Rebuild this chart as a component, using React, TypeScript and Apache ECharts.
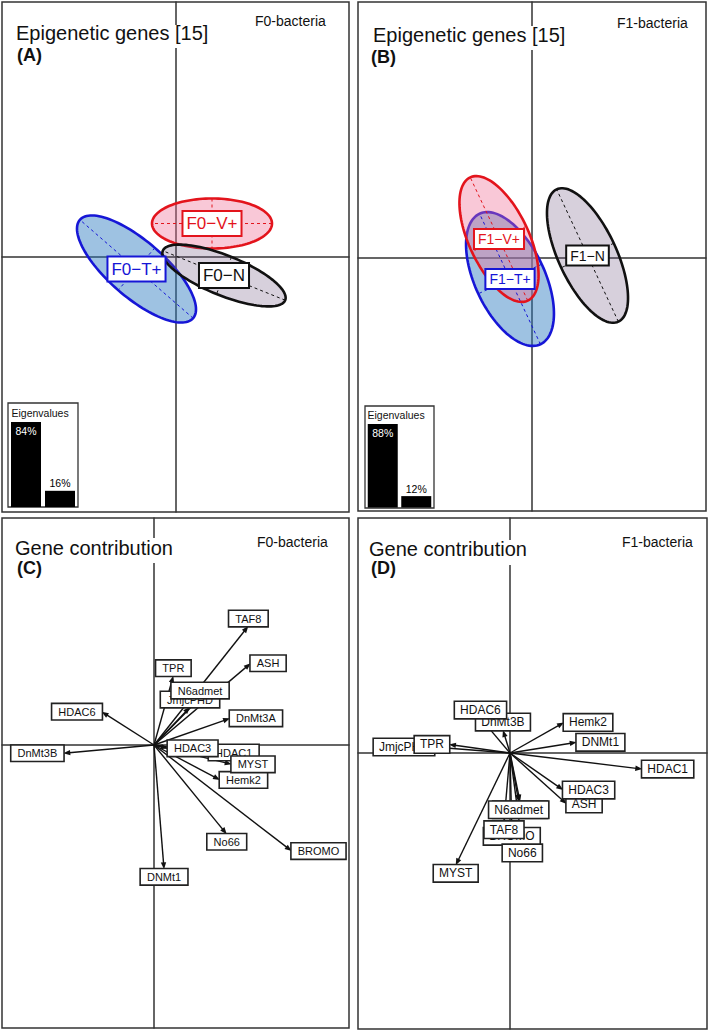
import React, { useEffect, useRef } from "react";
import * as echarts from "echarts";

const FONT = "'Liberation Sans', Arial, Helvetica, sans-serif";

// ---------- Data ----------
// Panel A: F0 group ellipses (centre, semi-axes, orientation in degrees)
const groupsF0 = ["F0−T+", "F0−V+", "F0−N"];
const centerXF0 = [-0.39, 0.365, 0.485];
const centerYF0 = [-0.12, 0.335, -0.185];
const semiMajorF0 = [0.75, 0.6, 0.66];
const semiMinorF0 = [0.28, 0.25, 0.2];
const angleF0 = [-41, 0, -22];

// Panel B: F1 group ellipses
const groupsF1 = ["F1−T+", "F1−V+", "F1−N"];
const centerXF1 = [-0.22, -0.33, 0.555];
const centerYF1 = [-0.215, 0.185, 0.02];
const semiMajorF1 = [0.72, 0.68, 0.73];
const semiMinorF1 = [0.35, 0.3, 0.29];
const angleF1 = [-65, -65, -65];

// Eigenvalue insets (percent of inertia)
const eigenAxes = ["1", "2"];
const eigenF0 = [84, 16];
const eigenF1 = [88, 12];

// Panels C/D: gene contributions (arrow tips)
const genes = ["ASH", "BROMO", "DNMt1", "DnMt3A", "DnMt3B", "HDAC1", "HDAC3", "HDAC6", "Hemk2", "JmjcPHD", "MYST", "N6admet", "No66", "TAF8", "TPR"];
const geneXF0 = [0.645, 0.918, 0.067, 0.507, -0.605, 0.367, 0.093, -0.349, 0.44, 0.24, 0.518, 0.307, 0.485, 0.629, 0.129];
const geneYF0 = [0.545, -0.707, -0.829, 0.178, -0.055, -0.05, -0.022, 0.222, -0.233, 0.253, -0.129, 0.313, -0.595, 0.793, 0.462];
const geneXF1 = [0.378, 0.012, 0.445, 0.067, -0.047, 0.882, 0.355, -0.197, 0.36, -0.507, -0.362, 0.058, 0.082, -0.04, -0.407];
const geneYF1 = [-0.34, -0.502, 0.071, -0.325, 0.153, -0.107, -0.247, 0.233, 0.204, 0.04, -0.749, -0.325, -0.613, -0.458, 0.057];

// ---------- Styles / layout ----------
const GROUP_STROKE = ["#1616d6", "#e3141c", "#111111"];
const GROUP_FILL = ["rgba(40,120,190,0.45)", "rgba(240,110,150,0.38)", "rgba(110,85,130,0.28)"];
const FRAME = "#333";

const PANELS = [
  { left: 2, top: 2, width: 347, height: 510, ox: 175.5, oy: 257, ppu: 100 },
  { left: 358, top: 2, width: 348, height: 509, ox: 532, oy: 257.5, ppu: 100 },
  { left: 2, top: 518, width: 347, height: 510, ox: 154, oy: 745, ppu: 150 },
  { left: 358, top: 518, width: 349, height: 511, ox: 510, oy: 753, ppu: 150 },
];

function ellipseRenderer(names: string[], fontSize: number, pad: number[]) {
  return (params: any, api: any) => {
    const i = params.dataIndex;
    const cx = api.value(0), cy = api.value(1), a = api.value(2), b = api.value(3);
    const ang = (api.value(4) * Math.PI) / 180;
    const c = Math.cos(ang), s = Math.sin(ang);
    const pts: number[][] = [];
    const N = 120;
    for (let k = 0; k < N; k++) {
      const t = (k / N) * 2 * Math.PI;
      const ex = a * Math.cos(t), ey = b * Math.sin(t);
      pts.push(api.coord([cx + ex * c - ey * s, cy + ex * s + ey * c]));
    }
    const p1 = api.coord([cx + a * c, cy + a * s]);
    const p2 = api.coord([cx - a * c, cy - a * s]);
    const q1 = api.coord([cx - b * s, cy + b * c]);
    const q2 = api.coord([cx + b * s, cy - b * c]);
    const ctr = api.coord([cx, cy]);
    const col = GROUP_STROKE[i];
    return {
      type: "group",
      children: [
        { type: "polygon", shape: { points: pts }, style: { fill: GROUP_FILL[i], stroke: col, lineWidth: 2.6 }, z2: 1 },
        { type: "line", shape: { x1: p1[0], y1: p1[1], x2: p2[0], y2: p2[1] }, style: { stroke: col, lineWidth: 1, lineDash: [3, 3] }, z2: 2 },
        { type: "line", shape: { x1: q1[0], y1: q1[1], x2: q2[0], y2: q2[1] }, style: { stroke: col, lineWidth: 1, lineDash: [3, 3] }, z2: 2 },
        {
          type: "text",
          x: ctr[0],
          y: ctr[1],
          z2: 100 + i,
          style: {
            text: names[i],
            align: "center", textAlign: "center",
            verticalAlign: "middle", textVerticalAlign: "middle",
            fontSize, fontFamily: FONT, lineHeight: fontSize,
            fill: col,
            backgroundColor: "#fff",
            borderColor: col,
            borderWidth: 2,
            padding: pad,
          },
        },
      ],
    };
  };
}

function arrowRenderer(fontSize: number, pad: number[]) {
  return (params: any, api: any) => {
    const i = params.dataIndex;
    const o = api.coord([0, 0]);
    const p = api.coord([api.value(0), api.value(1)]);
    const dx = p[0] - o[0], dy = p[1] - o[1];
    const len = Math.hypot(dx, dy) || 1;
    const ux = dx / len, uy = dy / len;
    const hl = 7, hw = 2.7;
    const bx = p[0] - hl * ux, by = p[1] - hl * uy;
    const head = [
      [p[0], p[1]],
      [bx - hw * uy, by + hw * ux],
      [bx + hw * uy, by - hw * ux],
    ];
    let align = "center", valign = "middle";
    if (Math.abs(dx) > Math.abs(dy)) {
      align = dx > 0 ? "left" : "right";
    } else {
      valign = dy < 0 ? "bottom" : "top";
    }
    return {
      type: "group",
      children: [
        { type: "line", shape: { x1: o[0], y1: o[1], x2: bx + ux, y2: by + uy }, style: { stroke: "#111", lineWidth: 1.4 }, z2: 1 },
        { type: "polygon", shape: { points: head }, style: { fill: "#111" }, z2: 2 },
        {
          type: "text",
          x: p[0],
          y: p[1],
          z2: 100 + i,
          style: {
            text: genes[i],
            align, textAlign: align,
            verticalAlign: valign, textVerticalAlign: valign,
            fontSize, fontFamily: FONT, lineHeight: fontSize,
            fill: "#111",
            backgroundColor: "#fff",
            borderColor: "#222",
            borderWidth: 1.6,
            padding: pad,
          },
        },
      ],
    };
  };
}

function txt(text: string, x: number, baseline: number, fontSize: number, extra: any = {}) {
  return {
    type: "text",
    z: 20,
    style: {
      text,
      x,
      y: baseline - 0.3465 * fontSize,
      align: "left", textAlign: "left",
      verticalAlign: "middle", textVerticalAlign: "middle",
      fontSize, fontFamily: FONT, fill: "#111",
      ...extra,
    },
  };
}

function whiteRect(x: number, y: number, w: number, h: number) {
  return { type: "rect", z: 15, shape: { x, y, width: w, height: h }, style: { fill: "#fff" } };
}

function buildOption() {
  const grids: any[] = PANELS.map((p) => ({
    left: p.left, top: p.top, width: p.width, height: p.height,
    show: true, borderColor: FRAME, borderWidth: 1.5, backgroundColor: "transparent",
  }));
  grids.push({ left: 9, top: 422, width: 68, height: 85, show: false });
  grids.push({ left: 366, top: 424, width: 67, height: 83.5, show: false });

  const axisLine = { show: true, onZero: true, lineStyle: { color: FRAME, width: 1.5 } };
  const xAxes: any[] = PANELS.map((p, i) => ({
    type: "value", gridIndex: i,
    min: -(p.ox - p.left) / p.ppu, max: (p.left + p.width - p.ox) / p.ppu,
    axisLine, axisTick: { show: false }, axisLabel: { show: false }, splitLine: { show: false },
  }));
  const yAxes: any[] = PANELS.map((p, i) => ({
    type: "value", gridIndex: i,
    min: -(p.top + p.height - p.oy) / p.ppu, max: (p.oy - p.top) / p.ppu,
    axisLine, axisTick: { show: false }, axisLabel: { show: false }, splitLine: { show: false },
  }));
  [eigenF0, eigenF1].forEach((vals, k) => {
    xAxes.push({ type: "category", gridIndex: 4 + k, data: eigenAxes, show: false });
    yAxes.push({ type: "value", gridIndex: 4 + k, min: 0, max: Math.max(...vals), show: false });
  });

  const ellipseData = (cx: number[], cy: number[], a: number[], b: number[], ang: number[]) =>
    cx.map((_, i) => [cx[i], cy[i], a[i], b[i], ang[i]]);

  const eigenSeries = (vals: number[], k: number) => ({
    type: "bar",
    xAxisIndex: 4 + k, yAxisIndex: 4 + k,
    barWidth: 30,
    itemStyle: { color: "#000" },
    data: vals.map((v, i) => ({
      value: v,
      label: i === 0
        ? { show: true, position: "insideTop", distance: 3, color: "#fff" }
        : { show: true, position: "top", distance: 2, color: "#000" },
    })),
    label: { show: true, formatter: "{c}%", fontSize: 10.5, fontFamily: FONT },
    silent: true,
  });

  const series: any[] = [
    {
      type: "custom", xAxisIndex: 0, yAxisIndex: 0,
      renderItem: ellipseRenderer(groupsF0, 17, [3, 3]),
      data: ellipseData(centerXF0, centerYF0, semiMajorF0, semiMinorF0, angleF0),
      encode: { x: 0, y: 1 },
    },
    {
      type: "custom", xAxisIndex: 1, yAxisIndex: 1,
      renderItem: ellipseRenderer(groupsF1, 14, [2, 3]),
      data: ellipseData(centerXF1, centerYF1, semiMajorF1, semiMinorF1, angleF1),
      encode: { x: 0, y: 1 },
    },
    {
      type: "custom", xAxisIndex: 2, yAxisIndex: 2,
      renderItem: arrowRenderer(11, [2, 6]),
      data: genes.map((_, i) => [geneXF0[i], geneYF0[i]]),
      encode: { x: 0, y: 1 },
    },
    {
      type: "custom", xAxisIndex: 3, yAxisIndex: 3,
      renderItem: arrowRenderer(12, [2, 5]),
      data: genes.map((_, i) => [geneXF1[i], geneYF1[i]]),
      encode: { x: 0, y: 1 },
    },
    eigenSeries(eigenF0, 0),
    eigenSeries(eigenF1, 1),
  ];

  const graphic: any[] = [
    // title masks
    whiteRect(14, 25, 196, 23),
    whiteRect(371, 26, 196, 24),
    whiteRect(13, 538, 160, 25),
    whiteRect(367, 540, 161, 25),
    // titles
    txt("Epigenetic genes [15]", 16, 40.3, 20),
    txt("(A)", 17, 61.5, 18, { fontWeight: "bold" }),
    txt("F0-bacteria", 255, 26, 14),
    txt("Epigenetic genes [15]", 373, 42.3, 20),
    txt("(B)", 371, 63.5, 18, { fontWeight: "bold" }),
    txt("F1-bacteria", 617, 27.5, 14),
    txt("Gene contribution", 15, 555, 20),
    txt("(C)", 17, 574, 18, { fontWeight: "bold" }),
    txt("F0-bacteria", 257, 546.5, 14),
    txt("Gene contribution", 369, 555.5, 20),
    txt("(D)", 371, 574, 18, { fontWeight: "bold" }),
    txt("F1-bacteria", 622, 546.5, 14),
    // eigenvalue inset frames
    { type: "rect", z: 1, shape: { x: 8, y: 403, width: 70, height: 104 }, style: { fill: "#fff", stroke: FRAME, lineWidth: 1.3 } },
    { type: "rect", z: 1, shape: { x: 365, y: 406, width: 69, height: 102 }, style: { fill: "#fff", stroke: FRAME, lineWidth: 1.3 } },
    txt("Eigenvalues", 11.5, 416.3, 10.5),
    txt("Eigenvalues", 367.5, 418.3, 10.5),
  ];

  return {
    animation: false,
    backgroundColor: "#fff",
    grid: grids,
    xAxis: xAxes,
    yAxis: yAxes,
    series,
    graphic,
  };
}

export default function App() {
  const ref = useRef<HTMLDivElement>(null);
  useEffect(() => {
    const chart = echarts.init(ref.current as HTMLDivElement, null, { renderer: "svg" });
    chart.setOption(buildOption() as any);
    return () => chart.dispose();
  }, []);
  return (
    <div
      ref={ref}
      style={{ position: "absolute", left: 0, top: 0, width: 709, height: 1030, background: "#fff" }}
    />
  );
}
